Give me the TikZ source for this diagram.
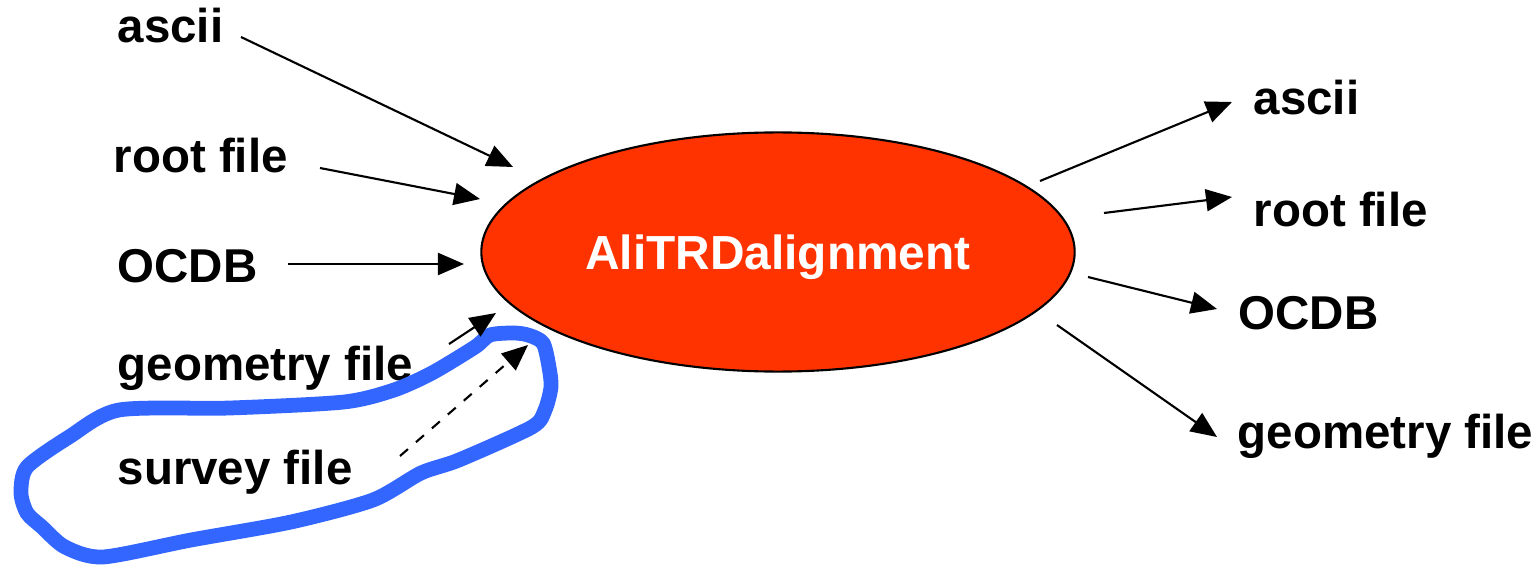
\documentclass[tikz,border=0pt]{standalone}
\usepackage{fontspec}
\setmainfont{Liberation Sans}
\usetikzlibrary{shapes.geometric, arrows.meta}
\definecolor{algred}{RGB}{255,51,0}
\definecolor{loopblue}{RGB}{51,102,255}
\tikzstyle{lbl} = [anchor=base west, inner sep=0pt, font=\fontsize{13.5}{15}\selectfont\bfseries]
\tikzstyle{arrow} = [line width=0.6pt, -{Triangle[length=0.26cm, width=0.22cm]}]
\tikzstyle{surveyarrow} = [arrow, dashed]

\begin{document}
\begin{tikzpicture}[x=0.01cm, y=-0.01cm]
			\useasboundingbox (0,0) rectangle (1539,570);
			% inputs
			\node (asciiIn) [lbl] at (117,43) {ascii};
			\node (rootIn) [lbl] at (113,173) {root file};
			\node (ocdbIn) [lbl] at (117,283) {OCDB};
			\node (geoIn) [lbl] at (117,380) {geometry file};
			\node (surveyIn) [lbl] at (117,484) {survey file};
			% outputs
			\node (asciiOut) [lbl] at (1253,115) {ascii};
			\node (rootOut) [lbl] at (1253,226) {root file};
			\node (ocdbOut) [lbl] at (1238,330) {OCDB};
			\node (geoOut) [lbl] at (1237,448) {geometry file};
			\node (align) [ellipse, draw, line width=0.6pt, fill=algred, minimum width=5.93cm, minimum height=2.39cm, text=white, text depth=0pt, font=\fontsize{13.6}{15}\selectfont\bfseries] at (778,252) {AliTRDalignment};
			% the survey loop
			\draw [loopblue, line width=4.2pt, line join=round] plot[smooth cycle, tension=0.45] coordinates {(528,335) (543,343) (549,367) (551,387) (545,410) (532,427) (459,460) (421,473) (373,500) (291,522) (191,540) (103,557) (65,547) (42,527) (27,513) (21,493) (27,467) (69,437) (119,410) (230,408) (344,402) (394,390) (432,373) (475,347) (490,335) (513,333)};
			% arrow ends
			\coordinate (asciiInA) at (241,37);   \coordinate (asciiInB) at (513,167);
			\coordinate (rootInA) at (320,168);   \coordinate (rootInB) at (480,199);
			\coordinate (ocdbInA) at (288,264);   \coordinate (ocdbInB) at (464,264);
			\coordinate (geoInA) at (449,344);    \coordinate (geoInB) at (496,313);
			\coordinate (surveyInA) at (400,456); \coordinate (surveyInB) at (528,345);
			\coordinate (asciiOutA) at (1040,181); \coordinate (asciiOutB) at (1232,102);
			\coordinate (rootOutA) at (1104,213);  \coordinate (rootOutB) at (1232,197);
			\coordinate (ocdbOutA) at (1088,277);  \coordinate (ocdbOutB) at (1217,309);
			\coordinate (geoOutA) at (1057,325);   \coordinate (geoOutB) at (1217,437);
			\draw [arrow] (asciiInA) -- (asciiInB);
			\draw [arrow] (rootInA) -- (rootInB);
			\draw [arrow] (ocdbInA) -- (ocdbInB);
			\draw [arrow] (geoInA) -- (geoInB);
			\draw [surveyarrow] (surveyInA) -- (surveyInB);
			\draw [arrow] (asciiOutA) -- (asciiOutB);
			\draw [arrow] (rootOutA) -- (rootOutB);
			\draw [arrow] (ocdbOutA) -- (ocdbOutB);
			\draw [arrow] (geoOutA) -- (geoOutB);
		\end{tikzpicture}
\end{document}
